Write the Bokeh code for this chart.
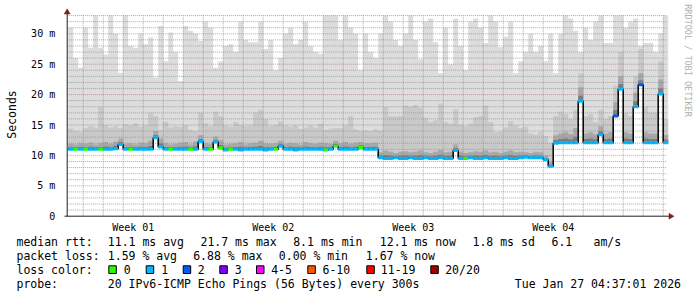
import numpy as np
from bokeh.plotting import figure
from bokeh.models import Range1d, LinearAxis, FixedTicker
from bokeh.core.properties import value
from bokeh.embed import file_html
from bokeh.resources import INLINE

# ---------------- data ----------------
# time buckets: 6 h each (0.25 day), first bucket starts at day 0.25 of week 01
bucket_days = 0.25
first_day = 0.25

# median rtt per bucket (ms)
median = [
    11.0, 11.0, 11.0, 11.0, 11.0, 11.0, 11.0, 11.0, 11.0, 11.1,
    11.8, 11.0, 11.0, 11.0, 11.0, 11.0, 11.0, 12.9, 11.4, 11.0,
    11.0, 11.0, 11.0, 11.0, 11.0, 11.0, 12.3, 11.0, 11.0, 12.2,
    11.2, 10.9, 11.0, 11.0, 10.9, 11.0, 11.0, 11.0, 11.0, 10.9,
    11.0, 11.0, 11.5, 11.0, 11.0, 10.9, 11.0, 11.0, 11.0, 11.0,
    11.0, 10.9, 11.0, 11.5, 11.0, 11.0, 11.0, 11.0, 11.3, 11.0,
    11.0, 11.0, 9.6, 9.5, 9.5, 9.6, 9.5, 9.5, 9.6, 9.5,
    9.5, 9.6, 9.5, 9.5, 9.6, 9.5, 9.5, 10.8, 9.5, 9.5,
    9.6, 9.5, 9.5, 9.6, 9.5, 9.5, 9.5, 9.6, 9.5, 9.5,
    9.6, 9.7, 9.6, 9.6, 9.6, 9.3, 8.2, 12.0, 12.1, 12.1,
    12.1, 12.1, 18.9, 12.1, 12.1, 12.1, 13.4, 12.1, 12.1, 16.5,
    20.9, 12.1, 12.1, 18.0, 21.6, 12.1, 12.1, 12.1, 20.1, 12.1,
]

# lost pings (of 20) per bucket
loss = [
    1, 0, 1, 0, 1, 1, 0, 1, 1, 1,
    1, 1, 0, 1, 1, 1, 1, 1, 1, 1,
    0, 1, 1, 1, 0, 1, 1, 1, 0, 1,
    0, 1, 0, 1, 1, 1, 1, 1, 1, 1,
    1, 0, 1, 1, 1, 1, 1, 1, 1, 1,
    1, 0, 1, 0, 1, 1, 1, 1, 0, 1,
    1, 1, 1, 1, 1, 1, 1, 1, 1, 1,
    1, 1, 1, 1, 1, 1, 1, 1, 1, 0,
    1, 1, 1, 1, 1, 1, 1, 1, 1, 1,
    1, 1, 1, 1, 1, 1, 1, 1, 1, 1,
    1, 1, 1, 1, 1, 1, 1, 1, 1, 2,
    1, 1, 1, 1, 2, 1, 1, 1, 1, 1,
]

# smoke: highest ping per bucket (ms)
smoke_top = [
    31.0, 26.0, 24.4, 31.0, 27.7, 33.0, 27.7, 26.6, 33.0, 30.0,
    23.6, 33.0, 28.0, 27.7, 30.0, 28.3, 29.4, 22.8, 31.3, 25.5,
    30.2, 27.0, 22.2, 31.3, 30.5, 30.0, 28.8, 32.0, 31.0, 24.4,
    25.5, 28.0, 28.3, 27.0, 32.0, 29.0, 28.6, 28.6, 32.0, 27.5,
    29.0, 24.0, 26.0, 30.0, 31.0, 28.3, 29.0, 32.0, 28.0, 27.0,
    26.7, 33.0, 33.0, 33.0, 29.0, 33.0, 31.0, 30.0, 24.0, 30.0,
    27.0, 26.0, 30.0, 33.0, 32.0, 29.0, 28.0, 30.0, 33.0, 29.0,
    25.8, 32.0, 32.5, 28.6, 23.5, 31.0, 25.0, 32.5, 28.0, 24.0,
    32.0, 32.5, 31.0, 28.5, 33.0, 32.0, 27.8, 29.5, 32.0, 23.5,
    25.5, 27.0, 30.0, 27.0, 28.0, 25.5, 30.0, 23.5, 30.0, 33.0,
    32.5, 30.5, 27.0, 31.0, 29.0, 32.0, 33.0, 28.5, 28.5, 33.0,
    33.0, 31.0, 32.0, 32.5, 28.0, 28.5, 28.5, 27.0, 30.0, 33.0,
]

# smoke: upper edge of the medium-grey band (ms)
smoke_upper = [
    14.4, 14.0, 13.8, 14.5, 14.8, 14.6, 17.9, 15.0, 14.6, 14.8,
    14.5, 15.1, 14.9, 15.3, 14.7, 15.0, 17.0, 16.5, 14.2, 15.5,
    14.6, 14.8, 14.7, 15.0, 14.2, 14.0, 17.0, 15.3, 14.8, 17.2,
    16.5, 14.9, 14.7, 15.5, 15.0, 14.8, 14.9, 17.0, 17.5, 16.0,
    14.8, 15.0, 15.6, 14.9, 14.7, 14.9, 14.4, 14.6, 14.9, 14.6,
    15.2, 14.2, 14.4, 14.5, 14.5, 14.9, 16.5, 14.3, 14.0, 14.1,
    14.0, 14.3, 14.0, 18.0, 16.5, 16.4, 16.5, 18.2, 18.0, 18.3,
    17.8, 16.2, 15.5, 15.8, 18.5, 15.5, 15.2, 17.6, 15.0, 14.8,
    15.2, 16.3, 16.5, 18.2, 15.5, 13.8, 13.9, 14.6, 15.6, 14.9,
    14.5, 14.7, 13.6, 13.4, 13.8, 13.2, 12.0, 16.5, 17.2, 16.8,
    16.0, 17.5, 23.5, 16.5, 16.8, 15.5, 17.5, 16.0, 16.5, 21.5,
    27.0, 17.0, 16.5, 23.0, 27.5, 18.0, 17.0, 17.0, 25.5, 16.0,
]

# smoke: upper edge of the dark band just above the median (ms)
smoke_dark = [
    11.9, 11.8, 12.0, 11.9, 12.1, 11.8, 12.0, 12.2, 11.9, 12.3,
    12.8, 11.9, 12.0, 11.8, 12.1, 12.0, 12.4, 14.0, 12.8, 12.0,
    11.8, 11.9, 12.1, 12.2, 11.8, 12.3, 13.3, 12.0, 11.9, 13.1,
    12.5, 11.8, 11.9, 12.0, 12.2, 11.8, 12.0, 12.1, 12.4, 12.0,
    11.9, 12.0, 12.4, 11.9, 12.1, 12.0, 11.8, 12.2, 12.0, 11.9,
    12.1, 12.0, 11.9, 12.4, 12.0, 12.2, 11.9, 12.1, 12.2, 12.0,
    12.0, 12.1, 10.5, 10.8, 10.6, 10.4, 10.6, 10.7, 10.5, 10.6,
    10.8, 10.5, 10.4, 10.6, 10.9, 10.5, 10.6, 11.8, 10.6, 10.4,
    10.5, 10.7, 10.6, 10.8, 10.5, 10.6, 10.4, 10.6, 10.8, 10.5,
    10.6, 10.5, 10.4, 10.6, 10.5, 10.0, 9.0, 13.3, 13.6, 13.8,
    13.5, 14.5, 21.2, 13.6, 13.8, 13.5, 14.8, 13.6, 13.8, 18.8,
    23.0, 13.8, 13.6, 20.3, 23.5, 13.8, 13.6, 13.6, 22.5, 13.4,
]

# axes
week_labels = ["Week 01", "Week 02", "Week 03", "Week 04"]
week_centers = [3.5, 10.5, 17.5, 24.5]
y_ticks = [0, 5, 10, 15, 20, 25, 30]
y_tick_labels = ["0", "5 m", "10 m", "15 m", "20 m", "25 m", "30 m"]

# legend texts
rtt_stats = ["11.1 ms avg", "21.7 ms max", "8.1 ms min", "12.1 ms now", "1.8 ms sd", "6.1", "am/s"]
loss_stats = ["1.59 % avg", "6.88 % max", "0.00 % min", "1.67 % now"]
loss_names = ["0", "1", "2", "3", "4-5", "6-10", "11-19", "20/20"]
loss_upper = [0, 1, 2, 3, 5, 10, 19, 20]
loss_colors = ["#26ff00", "#00b8ff", "#0059ff", "#7e00ff", "#ff00ff", "#ff5500", "#ff0000", "#a10000"]
probe_text = "20 IPv6-ICMP Echo Pings (56 Bytes) every 300s"
date_text = "Tue Jan 27 04:37:01 2026"

# ---------------- geometry helpers (pixels -> data) ----------------
W, H = 697, 297
X0_PX, PX_DAY = 62.7, 20.0     # pixel of day 0, pixels per day
Y0_PX, PX_MS = 215.7, 6.08     # pixel of 0 ms, pixels per ms


def fx(px):
    return (px - X0_PX) / PX_DAY


def fy(py):
    return (Y0_PX - py) / PX_MS


MONO = value("DejaVu Sans Mono")

p = figure(width=W, height=H, x_range=Range1d(fx(0), fx(W)), y_range=Range1d(fy(H), fy(0)),
           output_backend="svg", toolbar_location=None,
           x_axis_location=None, y_axis_location=None, min_border=0,
           outline_line_color=None, background_fill_color="white", border_fill_color="white")
p.grid.visible = False

n = len(median)
starts = [first_day + bucket_days * i for i in range(n)]
xs = starts + [starts[-1] + bucket_days]


def ext(a):
    return list(a) + [a[-1]]


core = [m + 0.4 * (d - m) for m, d in zip(median, smoke_dark)]

# smoke layers
p.varea_step(x=xs, y1=ext(median), y2=ext(smoke_top), step_mode="after", fill_color="#dddddd")
p.varea_step(x=xs, y1=ext(median), y2=ext(smoke_upper), step_mode="after", fill_color="#c9c9c9")
p.varea_step(x=xs, y1=ext(median), y2=ext(smoke_dark), step_mode="after", fill_color="#a8a8a8")
p.varea_step(x=xs, y1=ext(median), y2=ext(core), step_mode="after", fill_color="#7c7c7c")

# grid
x_left, x_right = 0.2, 30.2
y_top = 33.0
minor_h = [v for v in range(1, 34) if v % 5]
major_h = [v for v in range(5, 34, 5)]
minor_v = [d for d in range(1, 31) if d % 7]
major_v = [d for d in range(7, 31, 7)]
p.segment(x0=[x_left] * len(minor_h), x1=[x_right] * len(minor_h), y0=minor_h, y1=minor_h,
          line_color="#8f8f8f", line_alpha=0.75, line_width=1, line_dash="1 1")
p.segment(x0=minor_v, x1=minor_v, y0=[0] * len(minor_v), y1=[y_top] * len(minor_v),
          line_color="#8f8f8f", line_alpha=0.75, line_width=1, line_dash="1 1")
p.segment(x0=[x_left] * len(major_h), x1=[x_right] * len(major_h), y0=major_h, y1=major_h,
          line_color="#de5050", line_alpha=0.6, line_width=1, line_dash="1 1")
p.segment(x0=major_v, x1=major_v, y0=[0] * len(major_v), y1=[y_top] * len(major_v),
          line_color="#de5050", line_alpha=0.6, line_width=1, line_dash="1 1")


def loss_color(l):
    for up, c in zip(loss_upper, loss_colors):
        if l <= up:
            return c
    return loss_colors[-1]


# median line: black connectors + coloured segments
p.step(x=xs, y=ext(median), mode="after", line_color="black", line_width=1.5)
p.segment(x0=starts, x1=[s + bucket_days for s in starts], y0=median, y1=median,
          line_color=[loss_color(l) for l in loss], line_width=3)

# axis lines and arrows
p.segment(x0=[fx(64), x_left], x1=[fx(669), x_left], y0=[0, 0], y1=[0, fy(13)],
          line_color="#1f1f1f", line_width=1)
ax_px = 66.7
p.patches(xs=[[fx(ax_px), fx(ax_px - 3), fx(ax_px + 3)], [fx(673.5), fx(668.5), fx(668.5)]],
          ys=[[fy(8.3), fy(13.5), fy(13.5)], [fy(215.7), fy(212.7), fy(218.7)]],
          fill_color="#801f1f", line_color="#801f1f", line_width=0.5)

# axes (tick labels only)
yaxis = LinearAxis(fixed_location=x_left, ticker=FixedTicker(ticks=y_ticks),
                   major_label_overrides=dict(zip(y_ticks, y_tick_labels)),
                   axis_line_color=None, major_tick_line_color=None, minor_tick_line_color=None,
                   major_label_standoff=6, major_label_text_font="DejaVu Sans Mono",
                   major_label_text_font_size="10px", major_label_text_color="black")
p.add_layout(yaxis, "left")
xaxis = LinearAxis(fixed_location=0, ticker=FixedTicker(ticks=week_centers),
                   major_label_overrides=dict(zip(week_centers, week_labels)),
                   axis_line_color=None, major_tick_line_color=None, minor_tick_line_color=None,
                   major_label_standoff=0, major_label_text_font="DejaVu Sans Mono",
                   major_label_text_font_size="10px", major_label_text_color="black")
p.add_layout(xaxis, "below")

# y axis title and watermark
p.text(x=[fx(11)], y=[fy(114)], text=["Seconds"], angle=np.pi / 2, text_font=MONO,
       text_font_size="11.5px", text_align="center", text_baseline="middle", text_color="black")
p.text(x=[fx(687.5)], y=[fy(60)], text=["RRDTOOL / TOBI OETIKER"], angle=-np.pi / 2, text_font=MONO,
       text_font_size="8.5px", text_align="center", text_baseline="middle", text_color="#b0b0b0")

# legend
row_y = [241.3, 255.3, 269.3, 283.0]
fs = "11.5px"
p.text(x=[fx(16)] * 4, y=[fy(v) for v in row_y],
       text=["median rtt:", "packet loss:", "loss color:", "probe:"],
       text_font=MONO, text_font_size=fs, text_align="left", text_baseline="middle", text_color="black")
rtt_x = [107.3, 200.0, 292.7, 379.3, 472.0, 551.0, 593.0]
p.text(x=[fx(v) for v in rtt_x], y=[fy(row_y[0])] * len(rtt_x), text=rtt_stats,
       text_font=MONO, text_font_size=fs, text_align="left", text_baseline="middle", text_color="black")
loss_x = [107.3, 192.7, 278.3, 365.3]
p.text(x=[fx(v) for v in loss_x], y=[fy(row_y[1])] * len(loss_x), text=loss_stats,
       text_font=MONO, text_font_size=fs, text_align="left", text_baseline="middle", text_color="black")
box_x = [108.3, 145.7, 182.7, 219.3, 256.0, 307.3, 366.3, 430.3]
lab_x = [123.3, 160.7, 197.3, 234.3, 270.7, 322.0, 380.3, 444.7]
p.quad(left=[fx(v) for v in box_x], right=[fx(v + 7.5) for v in box_x],
       top=[fy(265.3)] * len(box_x), bottom=[fy(273.0)] * len(box_x),
       fill_color=loss_colors, line_color="black", line_width=1)
p.text(x=[fx(v) for v in lab_x], y=[fy(row_y[2])] * len(lab_x), text=loss_names,
       text_font=MONO, text_font_size=fs, text_align="left", text_baseline="middle", text_color="black")
p.text(x=[fx(107.3)], y=[fy(row_y[3])], text=[probe_text],
       text_font=MONO, text_font_size=fs, text_align="left", text_baseline="middle", text_color="black")
p.text(x=[fx(680.5)], y=[fy(row_y[3])], text=[date_text],
       text_font=MONO, text_font_size=fs, text_align="right", text_baseline="middle", text_color="black")

open("out.html", "w").write(file_html(p, INLINE))
